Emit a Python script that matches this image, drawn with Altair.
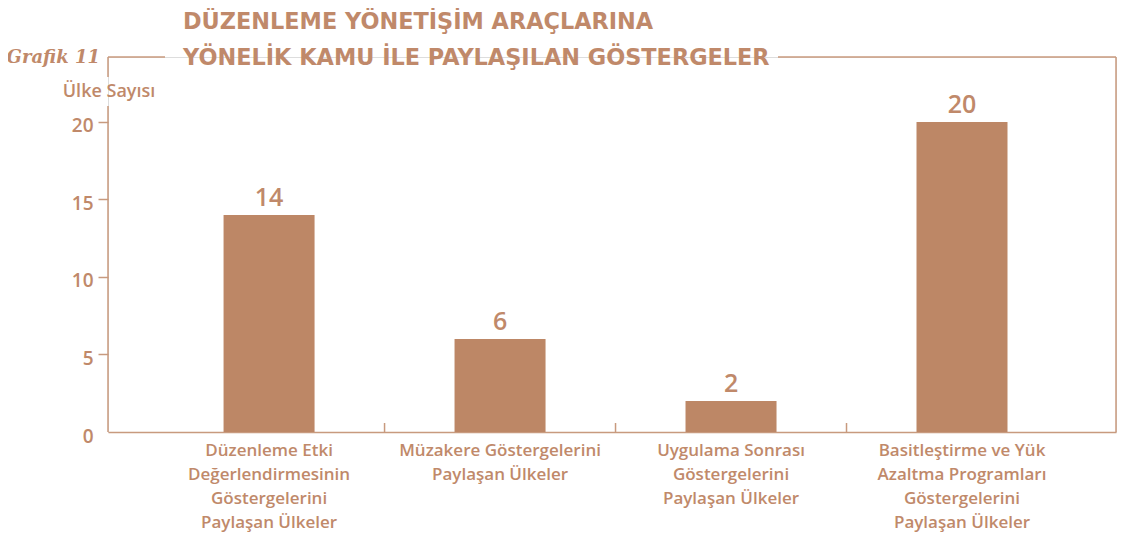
import altair as alt
import pandas as pd

categories = [
    "Düzenleme Etki|Değerlendirmesinin|Göstergelerini|Paylaşan Ülkeler",
    "Müzakere Göstergelerini|Paylaşan Ülkeler",
    "Uygulama Sonrası|Göstergelerini|Paylaşan Ülkeler",
    "Basitleştirme ve Yük|Azaltma Programları|Göstergelerini|Paylaşan Ülkeler",
]
values = [14, 6, 2, 20]
y_ticks = [0, 5, 10, 15, 20]
title_lines = ["DÜZENLEME YÖNETİŞİM ARAÇLARINA", "YÖNELİK KAMU İLE PAYLAŞILAN GÖSTERGELER"]
chart_label = "Grafik 11"
y_title = "Ülke Sayısı"

BAR = "#bd8766"
TXT = "#c0896a"
LINE = "#c89a7e"
FONT = "Open Sans"
W, H = 1008, 375

df = pd.DataFrame({"cat": categories, "val": values})
boundaries = pd.DataFrame({"cat": categories[1:]})

xscale = alt.Scale(domain=categories, paddingInner=0, paddingOuter=0.182, align=0.542)
yscale = alt.Scale(domain=[0, 24.19], nice=False)

x_enc = alt.X(
    "cat:N",
    scale=xscale,
    sort=None,
    title=None,
    axis=alt.Axis(
        labelExpr="split(datum.label, '|')",
        labelAngle=0,
        labelFont=FONT,
        labelFontSize=17,
        labelFontWeight=600,
        labelColor=TXT,
        labelLineHeight=24,
        labelPadding=10,
        labelBaseline="top",
        labelLimit=0,
        ticks=False,
        domainColor=LINE,
        domainWidth=1.5,
        grid=False,
    ),
)

y_enc = alt.Y(
    "val:Q",
    scale=yscale,
    title=None,
    axis=alt.Axis(
        values=y_ticks,
        domain=False,
        grid=False,
        tickColor=LINE,
        tickSize=10,
        tickWidth=1.5,
        tickOpacity={"condition": {"test": "datum.value == 0", "value": 0}, "value": 1},
        labelFont=FONT,
        labelFontSize=19,
        labelFontWeight=600,
        labelColor=TXT,
        labelPadding=5,
        labelOffset=4,
    ),
)

bars = alt.Chart(df).mark_bar(color=BAR, width=alt.RelativeBandSize(0.394)).encode(x=x_enc, y=y_enc)

labels = alt.Chart(df).mark_text(
    font=FONT, fontSize=25, fontWeight=600, color=TXT, baseline="alphabetic", dy=-9
).encode(x=alt.X("cat:N", scale=xscale, sort=None), y=alt.Y("val:Q", scale=yscale), text="val:Q")

btick = alt.Chart(boundaries).mark_rule(color=LINE, strokeWidth=1.5).encode(
    x=alt.X("cat:N", scale=xscale, sort=None, bandPosition=0),
    y=alt.value(H - 9),
    y2=alt.value(H),
)

one = alt.Data(values=[{}])

def seg(x1, x2, y1, y2):
    return alt.Chart(one).mark_rule(color=LINE, strokeWidth=1.5).encode(
        x=alt.value(x1), x2=alt.value(x2), y=alt.value(y1), y2=alt.value(y2)
    )

frame = [
    seg(0, 57, 0, 0),
    seg(670, W, 0, 0),
    seg(0, 0, 0, 20),
    seg(0, 0, 49, H),
    seg(W, W, 0, H),
]

def txt(text, x, y, size, weight, align, font=FONT, style="normal"):
    return alt.Chart(one).mark_text(
        text=text, font=font, fontSize=size, fontWeight=weight, fontStyle=style,
        color=TXT, align=align, baseline="alphabetic"
    ).encode(x=alt.value(x), y=alt.value(y))

texts = [
    txt(title_lines[0], 75, -28, 22.4, "bold", "left", font="DejaVu Sans"),
    txt(title_lines[1], 75, 8, 22.4, "bold", "left", font="DejaVu Sans"),
    txt(chart_label, -8, 6, 18, "bold", "right", font="DejaVu Serif", style="italic"),
    txt(y_title, 1, 40, 18, 600, "center"),
]

chart = alt.layer(bars, labels, btick, *frame, *texts).properties(
    width=W, height=H,
    autosize=alt.AutoSizeParams(type="none"),
    padding={"left": 100, "top": 49, "right": 1, "bottom": 101},
).configure_view(stroke=None).configure(background="white")

chart.save("out.html", embed_options={"renderer": "svg", "actions": False})
